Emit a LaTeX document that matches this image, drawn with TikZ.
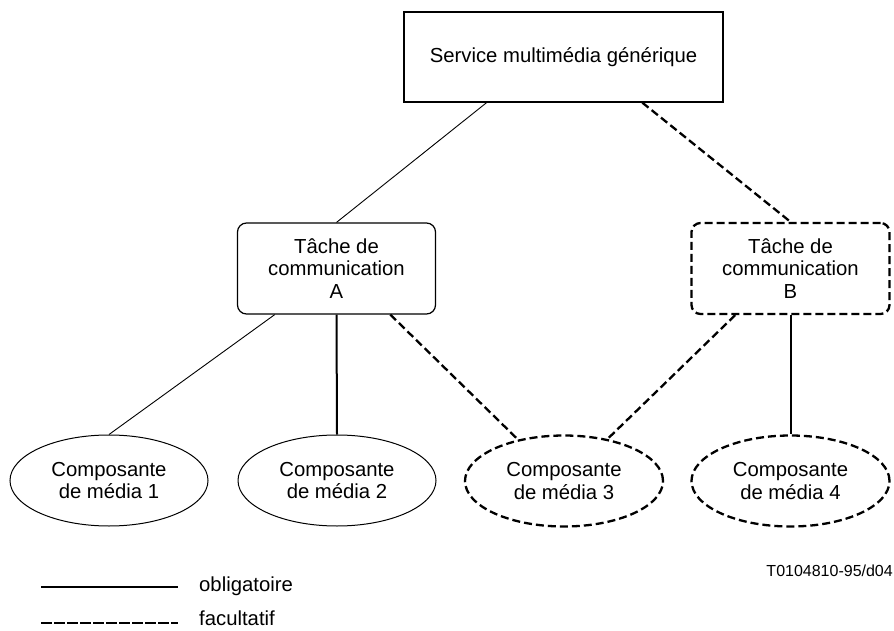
\documentclass[tikz,border=0pt]{standalone}
\usepackage{fontspec}
\setmainfont{Liberation Sans}
\usetikzlibrary{calc,shapes.geometric}
\begin{document}
\begin{tikzpicture}[x=1pt,y=-1pt,
  lbl/.style={font=\fontsize{20.3}{22.5}\selectfont, align=center, inner sep=0pt},
  dashline/.style={line width=2.3pt, dash pattern=on 8pt off 4pt},
  legdash/.style={line width=2.3pt, dash pattern=on 10.5pt off 2.5pt},
  thinline/.style={line width=0.9pt},
  thickline/.style={line width=2pt},
  svcbox/.style={lbl, draw, line width=1.2pt, minimum width=319pt, minimum height=90pt},
  taskbox/.style={lbl, draw, rounded corners=9pt, minimum width=198pt, minimum height=91pt},
  media/.style={lbl, draw, ellipse, minimum width=198pt, minimum height=91pt}]
\useasboundingbox (0,0) rectangle (894,631);

% hierarchy nodes
\node[svcbox] (svc) at (563.5,57) {Service multimédia générique};
\node[taskbox, line width=1.2pt] (ta) at (336.5,268.5) {Tâche de\\communication\\A};
\node[taskbox, dashline] (tb) at (790.5,268.5) {Tâche de\\communication\\B};
\node[media, line width=1pt] (m1) at (109,480.5) {Composante\\de média 1};
\node[media, line width=1pt] (m2) at (337,480.5) {Composante\\de média 2};
\node[media, dashline] (m3) at (564,481) {Composante\\de média 3};
\node[media, dashline] (m4) at (790.5,481) {Composante\\de média 4};

% connectors
\draw[thinline] ($(svc.south west)!0.26!(svc.south east)$) -- (ta.north);
\draw[dashline] ($(svc.south west)!0.746!(svc.south east)$) -- (tb.north);
\draw[thinline] ($(ta.south west)!0.19!(ta.south east)$) -- (m1.north);
\draw[thickline] (ta.south) -- (m2.north);
\draw[dashline] ($(ta.south west)!0.77!(ta.south east)$) -- (m3.138);
\draw[dashline] ($(tb.south west)!0.224!(tb.south east)$) -- (m3.44);
\draw[thickline] (tb.south) -- (m4.north);

% figure reference
\node[anchor=east, inner sep=0pt, font=\fontsize{16}{18}\selectfont] (ref) at (893,571) {T0104810-95/d04};

% legend
\coordinate (la) at (41,587);
\coordinate (lb) at (178,587);
\coordinate (lc) at (41,623);
\coordinate (ld) at (178,623);
\draw[thickline] (la) -- (lb);
\draw[legdash] (lc) -- (ld);
\node[lbl, anchor=west] (lob) at (199,586.5) {obligatoire};
\node[lbl, anchor=west] (lfa) at (199,618.5) {facultatif};
\end{tikzpicture}
\end{document}
